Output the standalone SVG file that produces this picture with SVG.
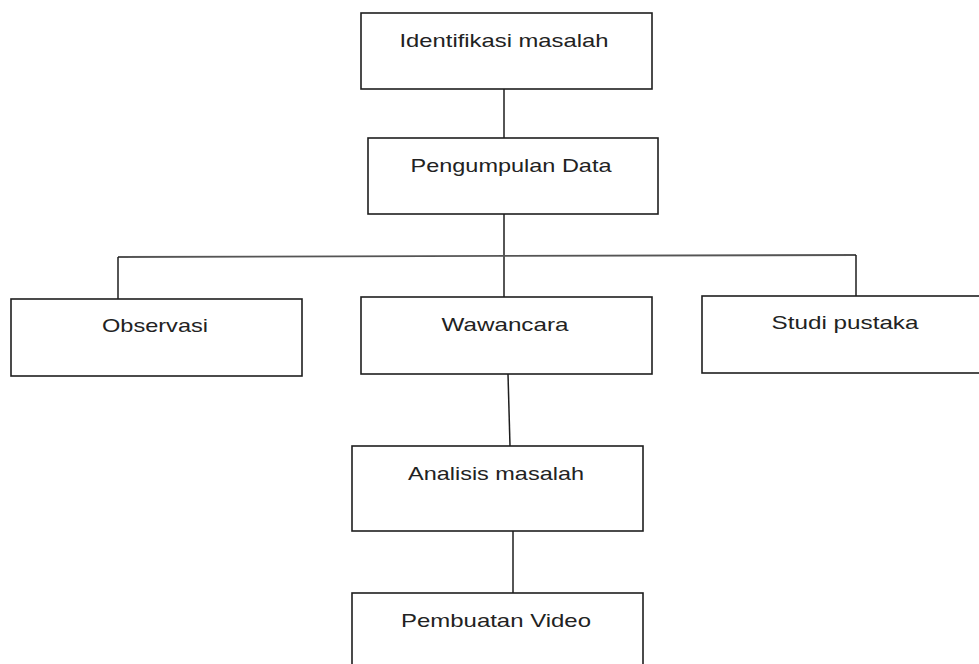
<svg xmlns="http://www.w3.org/2000/svg" width="979" height="664" viewBox="0 0 979 664">
<style>
.box{fill:#fff;stroke:#1e1e1e;stroke-width:1.6}
.lbl{font-family:"Liberation Sans",Arial,sans-serif;font-size:19px;fill:#222;text-anchor:middle}
.con{stroke:#1e1e1e;stroke-width:1.5;fill:none}
.hl{stroke:#555;stroke-width:1.8;fill:none}
</style>
<rect width="979" height="664" fill="#fff"/>
<g id="connectors">
<line class="con" x1="504" y1="89" x2="504" y2="138"/>
<line class="con" x1="504" y1="214" x2="504" y2="297"/>
<line class="hl" x1="118" y1="257" x2="856" y2="255"/>
<line class="con" x1="118" y1="257" x2="118" y2="299"/>
<line class="con" x1="856" y1="255" x2="856" y2="296"/>
<line class="con" x1="508" y1="374" x2="510" y2="446"/>
<line class="con" x1="513" y1="531" x2="513" y2="593"/>
</g>
<g id="n1"><rect class="box" x="361" y="13" width="291" height="76"/><text class="lbl" x="504" y="47" textLength="209" lengthAdjust="spacingAndGlyphs">Identifikasi masalah</text></g>
<g id="n2"><rect class="box" x="368" y="138" width="290" height="76"/><text class="lbl" x="511" y="172" textLength="201" lengthAdjust="spacingAndGlyphs">Pengumpulan Data</text></g>
<g id="n3"><rect class="box" x="11" y="299" width="291" height="77"/><text class="lbl" x="155" y="332" textLength="106" lengthAdjust="spacingAndGlyphs">Observasi</text></g>
<g id="n4"><rect class="box" x="361" y="297" width="291" height="77"/><text class="lbl" x="505" y="331" textLength="127" lengthAdjust="spacingAndGlyphs">Wawancara</text></g>
<g id="n5"><rect class="box" x="702" y="296" width="285" height="77"/><text class="lbl" x="845" y="329" textLength="147" lengthAdjust="spacingAndGlyphs">Studi pustaka</text></g>
<g id="n6"><rect class="box" x="352" y="446" width="291" height="85"/><text class="lbl" x="496" y="480" textLength="176" lengthAdjust="spacingAndGlyphs">Analisis masalah</text></g>
<g id="n7"><rect class="box" x="352" y="593" width="291" height="85"/><text class="lbl" x="496" y="627" textLength="190" lengthAdjust="spacingAndGlyphs">Pembuatan Video</text></g>
</svg>
